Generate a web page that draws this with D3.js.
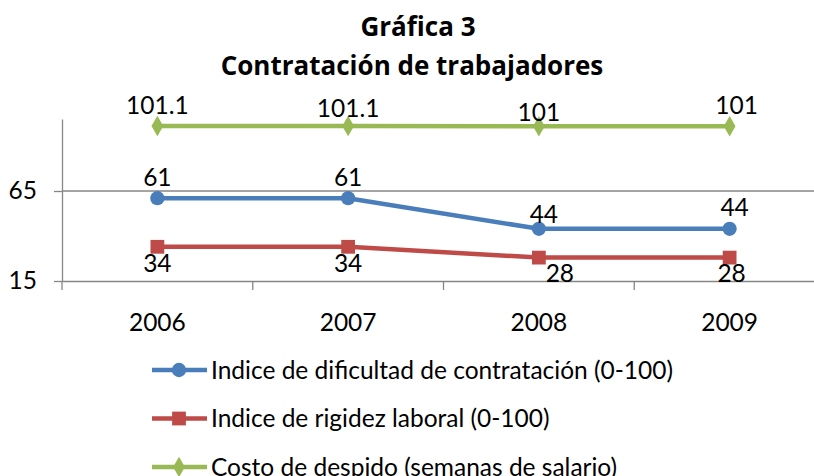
<!DOCTYPE html>
<html>
<head>
<meta charset="utf-8">
<script src="https://cdn.jsdelivr.net/npm/d3@7"></script>
<style>
  body { margin: 0; background: #fff; }
  svg text { font-family: Lato, "Open Sans", sans-serif; fill: #000; }
</style>
</head>
<body>
<div id="chart"></div>
<script>
// chart data
const years = ["2006", "2007", "2008", "2009"];
const dificultad = [61, 61, 44, 44];
const rigidez = [34, 34, 28, 28];
const despido = [101.1, 101.1, 101, 101];
const yTicks = [15, 65];
const seriesNames = [
  "Indice de dificultad de contratación (0-100)",
  "Indice de rigidez laboral (0-100)",
  "Costo de despido (semanas de salario)"
];

const svgWidth = 814;
const svgHeight = 476;
const fontSize = "24.5px";

const svg = d3.select("#chart")
    .append("svg")
    .attr("width", svgWidth)
    .attr("height", svgHeight);

// title
svg.append("text")
    .attr("x", 418).attr("y", 36)
    .attr("text-anchor", "middle")
    .style("font-family", "'Open Sans', sans-serif")
    .style("font-size", "26px").style("font-weight", "bold")
    .text("Gráfica 3");
svg.append("text")
    .attr("x", 412).attr("y", 75)
    .attr("text-anchor", "middle")
    .style("font-family", "'Open Sans', sans-serif")
    .style("font-size", "26px").style("font-weight", "bold")
    .text("Contratación de trabajadores");

// scales
const xScale = d3.scaleBand()
    .domain(years)
    .range([62, 825]);
const xc = d => xScale(d) + xScale.bandwidth() / 2;

const yScale = d3.scaleLinear()
    .domain([15, 105])
    .range([281, 119]);

const axisColor = "#868686";

// gridline at 65
svg.append("g")
    .selectAll("line")
    .data(yTicks.filter(t => t > 15))
    .enter()
    .append("line")
    .attr("x1", 62).attr("x2", 825)
    .attr("y1", d => yScale(d)).attr("y2", d => yScale(d))
    .attr("stroke", axisColor).attr("stroke-width", 1.3);

// y axis
const leftAxis = d3.axisLeft(yScale).tickValues(yTicks).tickSize(8).tickSizeOuter(0).tickPadding(17);
const gy = svg.append("g")
    .attr("transform", "translate(62,0)")
    .call(leftAxis);
gy.selectAll("path, line").attr("stroke", axisColor).attr("stroke-width", 1.3);
gy.selectAll("text").style("font-size", fontSize).attr("fill", "#000");

// x axis
const bottomAxis = d3.axisBottom(xScale).tickSize(0).tickPadding(33);
const gx = svg.append("g")
    .attr("transform", "translate(0,281)")
    .call(bottomAxis);
gx.select(".domain").attr("stroke", axisColor).attr("stroke-width", 1.3);
gx.selectAll("text").style("font-size", fontSize).attr("fill", "#000");
// category boundary ticks
gx.selectAll(".bound")
    .data(years)
    .enter()
    .append("line")
    .attr("class", "bound")
    .attr("x1", d => xScale(d)).attr("x2", d => xScale(d))
    .attr("y1", 0).attr("y2", 9)
    .attr("stroke", axisColor).attr("stroke-width", 1.3);

// series (label nudges mimic the hand-placed labels)
const series = [
  { name: seriesNames[0], values: dificultad, color: "#4A7EBB", marker: "circle",
    labelDy: [-12, -12, -6, -13], labelDx: [0, 0, 5, 5] },
  { name: seriesNames[1], values: rigidez, color: "#BE4B48", marker: "square",
    labelDy: [25, 25, 24, 24], labelDx: [0, 0, 21, 2] },
  { name: seriesNames[2], values: despido, color: "#98B954", marker: "diamond",
    labelDy: [-12, -9, -5, -12], labelDx: [0, 0, 0, 7] }
];

const symbolType = { circle: d3.symbolCircle, square: d3.symbolSquare, diamond: d3.symbolDiamond };
const symbolSize = { circle: 160, square: 190, diamond: 120 };

const line = d3.line()
    .x(d => xc(d.year))
    .y(d => yScale(d.value));

series.forEach(function (s) {
    const pts = s.values.map((v, i) => ({ year: years[i], value: v, i: i }));
    svg.append("path")
        .datum(pts)
        .attr("fill", "none")
        .attr("stroke", s.color)
        .attr("stroke-width", 4.5)
        .attr("d", line);

    svg.append("g")
        .selectAll("path")
        .data(pts)
        .enter()
        .append("path")
        .attr("transform", d => `translate(${xc(d.year)},${yScale(d.value)})`)
        .attr("d", d3.symbol().type(symbolType[s.marker]).size(symbolSize[s.marker]))
        .attr("fill", s.color);

    svg.append("g")
        .selectAll("text")
        .data(pts)
        .enter()
        .append("text")
        .attr("x", d => xc(d.year) + s.labelDx[d.i])
        .attr("y", d => yScale(d.value) + s.labelDy[d.i])
        .attr("text-anchor", "middle")
        .style("font-size", fontSize)
        .text(d => d.value);
});

// legend
const legend = svg.append("g");
series.forEach(function (s, i) {
    const ly = 370 + i * 48.5;
    legend.append("line")
        .attr("x1", 152).attr("x2", 207)
        .attr("y1", ly).attr("y2", ly)
        .attr("stroke", s.color).attr("stroke-width", 4.5);
    legend.append("path")
        .attr("transform", `translate(179,${ly})`)
        .attr("d", d3.symbol().type(symbolType[s.marker]).size(symbolSize[s.marker]))
        .attr("fill", s.color);
    legend.append("text")
        .attr("x", 211).attr("y", ly)
        .attr("dy", "0.35em")
        .style("font-size", fontSize)
        .text(s.name);
});
</script>
</body>
</html>
